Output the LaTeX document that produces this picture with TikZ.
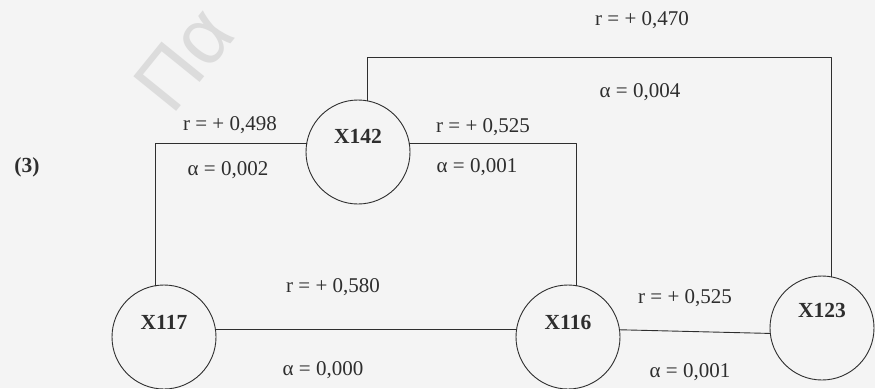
\documentclass[tikz,border=0pt]{standalone}
\usepackage{fontspec}
\setmainfont{Liberation Serif}
\newfontfamily\markfont{Liberation Sans}
\usetikzlibrary{positioning}
\definecolor{paper}{HTML}{F4F4F4}
\definecolor{ink}{HTML}{2E2E2E}
\definecolor{wmark}{HTML}{DCDCDC}
\tikzset{
    every picture/.style={line cap=round,line join=round},
    varnode/.style={draw=ink,circle,line width=0.9pt,
      minimum size=104pt,inner sep=0pt,outer sep=0pt},
    varname/.style={font=\fontsize{21.5}{25}\selectfont\bfseries,text=ink},
    corrlabel/.style={font=\fontsize{21}{25}\selectfont,text=ink,inner sep=1pt},
    markglyph/.style={rotate=51,text=wmark,inner sep=0pt,
      font=\markfont\fontsize{80}{82}\selectfont},
    linkline/.style={draw=ink,line width=0.9pt}
}

\begin{document}
\begin{tikzpicture}[x=1pt,y=-1pt]
  \fill[paper] (0,0) rectangle (875,388);
  \useasboundingbox (0,0) rectangle (875,388);
  % watermark of the scan
  \node[markglyph] (wm) at (184,59) {Πα};
  \node[varname] (tag) at (27,167) {(3)};
  % variables
  \node[varnode,label={[varname,yshift=16pt]center:X142}] (x142) at (358,152) {};
  \node[varnode,label={[varname,yshift=15pt]center:X117}] (x117) at (164,337) {};
  \node[varnode,label={[varname,yshift=15pt]center:X116}] (x116) at (568,337) {};
  \node[varnode,label={[varname,yshift=18pt]center:X123}] (x123) at (822,328) {};
  % links
  \coordinate (topy) at (0,57);
  \draw[linkline] (x142.170) -| (x117.100);
  \draw[linkline] (x142.10) -| (x116.81);
  \draw[linkline] (x142.80) |- (x123.79 |- topy) -- (x123.79);
  \draw[linkline] (x117.8) -- (x116.172);
  \draw[linkline] (x116.8) -- (x123.186);
  % coefficients
  \node[corrlabel] (r470) at (642,20) {r = + 0,470};
  \node[corrlabel] (a004) at (640,92) {α = 0,004};
  \node[corrlabel] (r498) at (230,125) {r = + 0,498};
  \node[corrlabel] (a002) at (228,170) {α = 0,002};
  \node[corrlabel] (r525a) at (483,127) {r = + 0,525};
  \node[corrlabel] (a001a) at (477,167) {α = 0,001};
  \node[corrlabel] (r580) at (333,287) {r = + 0,580};
  \node[corrlabel] (a000) at (323,370) {α = 0,000};
  \node[corrlabel] (r525b) at (685,298) {r = + 0,525};
  \node[corrlabel] (a001b) at (690,372) {α = 0,001};
\end{tikzpicture}
\end{document}
